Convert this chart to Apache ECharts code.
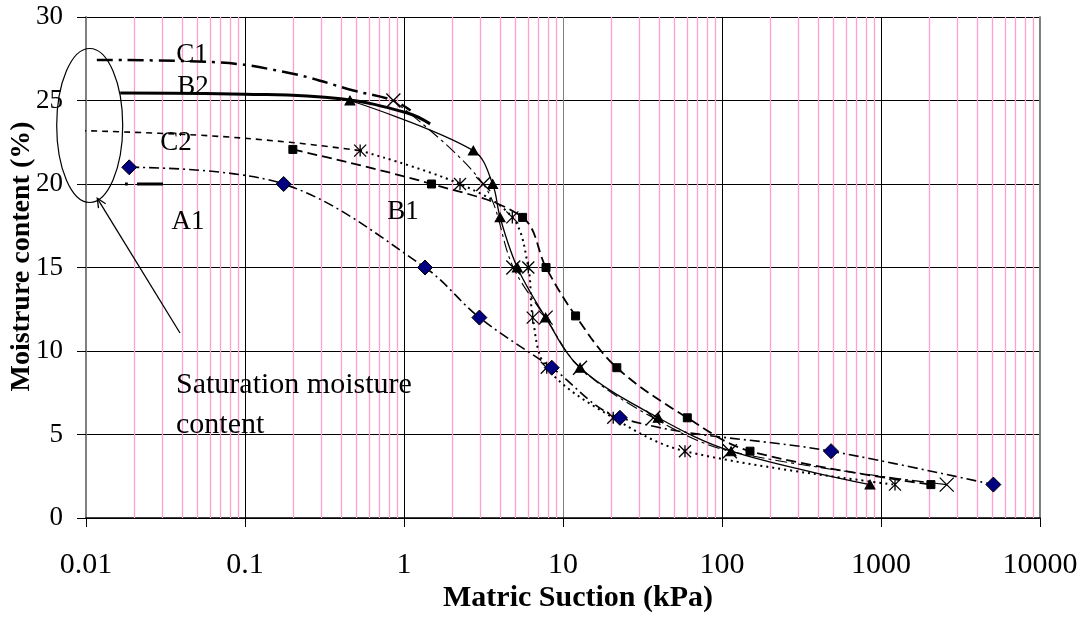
<!DOCTYPE html>
<html><head><meta charset="utf-8">
<script src="https://cdn.jsdelivr.net/npm/echarts@6/dist/echarts.min.js"></script>
<style>html,body{margin:0;padding:0;background:#fff}#c{width:1084px;height:617px}</style>
</head><body><div id="c"></div>
<script>
// ---- data ----
const xTickLabels = ['0.01','0.1','1','10','100','1000','10000'];
const yTickLabels = ['0','5','10','15','20','25','30'];
const minorGrid = [0.02,0.03,0.04,0.05,0.06,0.07,0.08,0.09,
  0.2,0.3,0.4,0.5,0.6,0.7,0.8,0.9,
  2,3,4,5,6,7,8,9,
  20,30,40,50,60,70,80,90,
  200,300,400,500,600,700,800,900,
  2000,3000,4000,5000,6000,7000,8000,9000];
// marker series [suction kPa, moisture %]
const diamondA1 = [[0.0187,21],[0.175,20],[1.355,15],[2.98,12],[8.5,9],[22.8,6],[485,4],[5090,2]];
const squares   = [[0.2,22.07],[1.49,20],[5.57,18],[7.82,15],[12.0,12.1],[21.8,9],[60.5,6],[150,4],[2060,2]];
const triangles = [[0.457,25],[2.73,22],[3.61,20],[4.02,18],[5.16,15],[7.78,12],[12.8,9],[39.7,6],[114,4],[853,2]];
const crosses   = [[0.857,25],[3.15,20],[4.87,15],[7.78,12],[12.8,9],[37,6],[112,4],[2590,2]];
const stars     = [[0.53,22],[2.25,20],[4.8,18],[6.05,15],[6.45,12],[7.9,9],[20.7,6],[58.5,4],[1225,2]];
// saturation curves
const curveC1 = [[0.0117,27.43],[0.063,27.3],[0.2,26.6],[0.48,25.6],[0.857,25],[1.1,24.4]];
const curveB2 = [[0.0164,25.45],[0.1,25.38],[0.4,25.1],[1.05,24.25],[1.46,23.6]];
const curveC2 = [[0.0092,23.2],[0.05,22.93],[0.19,22.5],[0.53,22.0]];
const curveA1 = [[0.0176,20],[0.0305,20]];

const serif = '"Liberation Serif","Times New Roman",serif';
const chart = echarts.init(document.getElementById('c'), null, {renderer:'canvas'});

const crossPath = 'path://M0,0L10,10M10,0L0,10';
const starPath = 'path://M0,0L10,10M10,0L0,10M5,0L5,10';

function markerSeries(data, symbol, size, itemStyle, lineStyle){
  return {type:'line', data, symbol, symbolSize:size, showSymbol:true, smooth:0.35,
    itemStyle, lineStyle, emphasis:{disabled:true}, z:3, clip:false};
}
function curve(data, lineStyle){
  return {type:'line', data, symbol:'none', smooth:0.4, lineStyle, emphasis:{disabled:true}, z:3, clip:false};
}

chart.setOption({
  animation:false,
  grid:{left:86, right:44, top:17, bottom:99, containLabel:false, outerBoundsMode:'none'},
  xAxis:{type:'log', logBase:10, min:0.01, max:10000, splitNumber:6,
    name:'Matric Suction (kPa)', nameLocation:'middle', nameGap:65, nameMoveOverlap:false,
    nameTextStyle:{fontFamily:serif, fontWeight:'bold', fontSize:30, color:'#000', padding:[0,0,0,30]},
    axisLine:{lineStyle:{color:'#000', width:1.5}},
    axisTick:{show:true, length:9, lineStyle:{color:'#000'}},
    axisLabel:{fontFamily:serif, fontSize:30, color:'#000', margin:32,
      formatter:(v)=>{const i=Math.round(Math.log10(v))+2; return xTickLabels[i]||'';}},
    splitLine:{show:true, lineStyle:{color:['#808080','#000','#000','#808080','#000','#000','#808080'], width:1}},
    minorTick:{show:false}, minorSplitLine:{show:false}
  },
  yAxis:[{type:'value', min:0, max:30, interval:5,
    name:'Moistrure content (%)', nameLocation:'middle', nameGap:50, nameMoveOverlap:false,
    nameTextStyle:{fontFamily:serif, fontWeight:'bold', fontSize:28, color:'#000', padding:[0,0,0,22]},
    axisLine:{show:true, lineStyle:{color:'#808080', width:2}},
    axisTick:{show:true, length:9, lineStyle:{color:'#000'}},
    axisLabel:{fontFamily:serif, fontSize:27, color:'#000', margin:23,
      formatter:(v)=>yTickLabels[Math.round(v/5)]},
    splitLine:{show:true, lineStyle:{color:'#000', width:1}}
  },{type:'value', min:0, max:30, interval:5, position:'right',
    axisLine:{show:true, lineStyle:{color:'#808080', width:2}},
    axisTick:{show:false}, axisLabel:{show:false}, splitLine:{show:false}}],
  series:[
    {type:'custom', z:1, silent:true, data:minorGrid.map(v=>[v,0]), encode:{x:0,y:1},
      renderItem:(params, api)=>{
        const v = api.value(0);
        const p0 = api.coord([v,0]); const p1 = api.coord([v,30]);
        const x = Math.round(p0[0])+0.5;
        return {type:'line', shape:{x1:x,y1:p0[1],x2:x,y2:p1[1]}, style:{stroke:'#ff9fd0', lineWidth:1.3}};
      }},
    curve(curveC1, {color:'#000', width:2.5, type:[16,6,3,6]}),
    curve(curveB2, {color:'#000', width:3, type:'solid'}),
    curve(curveC2, {color:'#000', width:1.6, type:[6,5]}),
    curve(curveA1, {color:'#000', width:3, type:[3,9,30,60]}),
    markerSeries(triangles, 'triangle', [10,9], {color:'#000', borderColor:'#000'}, {color:'#000', width:1.3, type:'solid'}),
    markerSeries(squares, 'rect', 8, {color:'#000', borderColor:'#000'}, {color:'#000', width:1.8, type:[10,5]}),
    markerSeries(crosses, crossPath, 14, {color:'#000', borderColor:'#000', borderWidth:1.3}, {color:'#000', width:1.1, type:[12,4,3,4]}),
    markerSeries(stars, starPath, 12, {color:'#000', borderColor:'#000', borderWidth:1.3}, {color:'#000', width:2, type:[2,4]}),
    markerSeries(diamondA1, 'diamond', 15, {color:'#000080', borderColor:'#000', borderWidth:1}, {color:'#000', width:1.6, type:[10,4,2,4]})
  ],
  graphic:[
    {type:'ellipse', shape:{cx:89.7, cy:125.5, rx:33, ry:77}, style:{fill:'none', stroke:'#000', lineWidth:1.2}, z:100},
    {type:'polyline', shape:{points:[[180,333],[97.3,198.3]]}, style:{stroke:'#000', lineWidth:1.3, fill:'none'}, z:100},
    {type:'polyline', shape:{points:[[105.6,203.8],[97.3,198.3],[98.5,208.2]]}, style:{stroke:'#000', lineWidth:1.3, fill:'none'}, z:100},
    {type:'text', x:192, y:55, z:100, style:{text:'C1', font:'27px '+serif, fill:'#000', align:'center', verticalAlign:'middle'}},
    {type:'text', x:193, y:87, z:100, style:{text:'B2', font:'27px '+serif, fill:'#000', align:'center', verticalAlign:'middle'}},
    {type:'text', x:176, y:143, z:100, style:{text:'C2', font:'27px '+serif, fill:'#000', align:'center', verticalAlign:'middle'}},
    {type:'text', x:188, y:222, z:100, style:{text:'A1', font:'27px '+serif, fill:'#000', align:'center', verticalAlign:'middle'}},
    {type:'text', x:403, y:212, z:100, style:{text:'B1', font:'27px '+serif, fill:'#000', align:'center', verticalAlign:'middle'}},
    {type:'text', x:176, y:385, z:100, style:{text:'Saturation moisture', font:'30px '+serif, fill:'#000', align:'left', verticalAlign:'middle'}},
    {type:'text', x:176, y:425, z:100, style:{text:'content', font:'30px '+serif, fill:'#000', align:'left', verticalAlign:'middle'}}
  ]
});
</script></body></html>
